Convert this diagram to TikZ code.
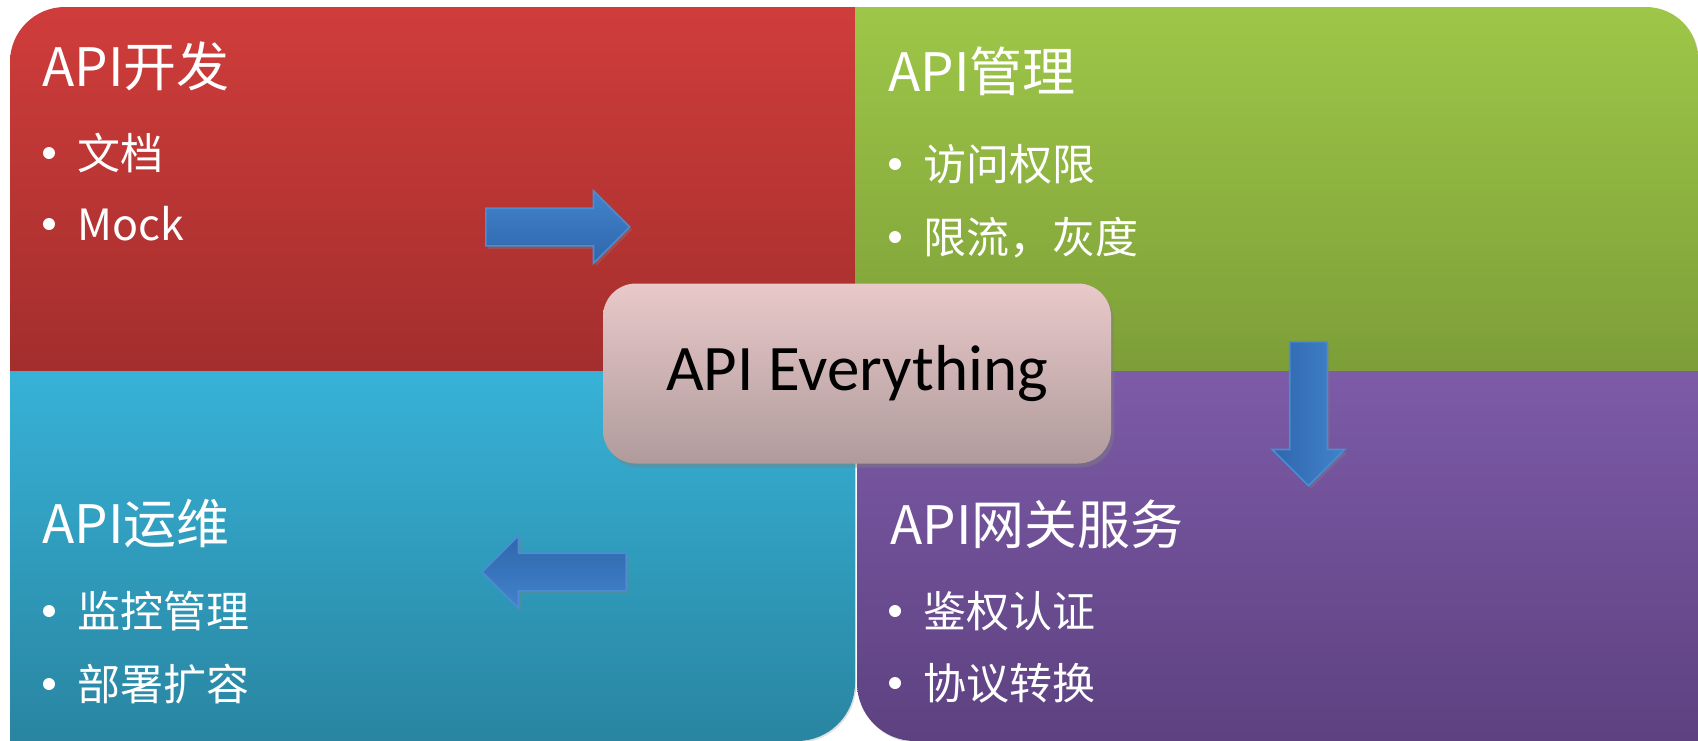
\documentclass[tikz,border=0pt]{standalone}
\usepackage{fontspec}
\setmainfont{Noto Sans CJK SC}
\newfontfamily\hubfont{Carlito}
\usepackage{xcolor}
\usepackage{tikz}
\usetikzlibrary{shapes.arrows,shadows}

\definecolor{devtop}{HTML}{CF3D3B}
\definecolor{devbot}{HTML}{A32E2D}
\definecolor{mgmttop}{HTML}{9EC748}
\definecolor{mgmtbot}{HTML}{7D9E38}
\definecolor{opstop}{HTML}{37B2D7}
\definecolor{opsbot}{HTML}{2985A1}
\definecolor{gwtop}{HTML}{7D5BA8}
\definecolor{gwbot}{HTML}{5D4180}
\definecolor{hubtop}{HTML}{E9C9CA}
\definecolor{hubbot}{HTML}{B09B9B}
\definecolor{arrowlight}{HTML}{4283CB}
\definecolor{arrowdark}{HTML}{2F66AC}
\definecolor{arrowline}{HTML}{4C8CD2}

\tikzset{
  quad/.style={drop shadow={opacity=0.25,shadow xshift=0.6pt,shadow yshift=-0.8pt}},
  title/.style={anchor=west, inner sep=0pt, text=white, font=\fontsize{26.5}{30}\selectfont, text height=22pt, text depth=1.9pt},
  item/.style={anchor=west, inner sep=0pt, text=white, font=\fontsize{21.5}{25}\selectfont, text height=17.8pt, text depth=1.5pt},
  dot/.style={circle, fill=white, inner sep=0pt, minimum size=6pt},
  blockarrow/.style={single arrow, anchor=tail, draw=arrowline, line width=0.8pt, inner xsep=0pt, inner ysep=9pt, minimum height=72pt, single arrow head extend=8.75pt, drop shadow={opacity=0.35,shadow xshift=1.2pt,shadow yshift=-1.5pt}},
  hub/.style={rounded corners=16.5pt, minimum width=254pt, minimum height=90pt, top color=hubtop, bottom color=hubbot, font=\hubfont\fontsize{32.5}{36}\selectfont, drop shadow={opacity=0.45,shadow xshift=1.5pt,shadow yshift=-2pt}}
}

\begin{document}
\begin{tikzpicture}[x=0.5pt,y=-0.5pt]
  \useasboundingbox (0,0) rectangle (1698,740);
  \path[quad, top color=devtop, bottom color=devbot] (855,371) -- (10,371) -- (10,62) arc[start angle=180,end angle=270,radius=55] -- (855,7) -- cycle;
  \path[quad, top color=mgmttop, bottom color=mgmtbot] (855,7) -- (1646,7) arc[start angle=270,end angle=360,radius=52] -- (1698,371) -- (855,371) -- cycle;
  \path[quad, top color=opstop, bottom color=opsbot] (10,371) -- (855,371) -- (855,683) arc[start angle=0,end angle=90,radius=58] -- (10,741) -- cycle;
  \path[quad, top color=gwtop, bottom color=gwbot] (857,371) -- (1698,371) -- (1698,741) -- (915,741) arc[start angle=90,end angle=180,radius=58] -- cycle;

  \node[title] (devT) at (42,66) {API开发};
  \node[dot] (devB1) at (49,153) {};
  \node[item] (dev1) at (77,153) {文档};
  \node[dot] (devB2) at (49,224) {};
  \node[item] (dev2) at (77,224) {Mock};

  \node[title] (mgmtT) at (888,71) {API管理};
  \node[dot] (mgmtB1) at (895,164) {};
  \node[item] (mgmt1) at (923,164) {访问权限};
  \node[dot] (mgmtB2) at (895,237) {};
  \node[item] (mgmt2) at (923,237) {限流，灰度};

  \node[title] (opsT) at (42,523) {API运维};
  \node[dot] (opsB1) at (49,611) {};
  \node[item] (ops1) at (77,611) {监控管理};
  \node[dot] (opsB2) at (49,684) {};
  \node[item] (ops2) at (77,684) {部署扩容};

  \node[title] (gwT) at (890,524) {API网关服务};
  \node[dot] (gwB1) at (895,611) {};
  \node[item] (gw1) at (923,611) {鉴权认证};
  \node[dot] (gwB2) at (895,683) {};
  \node[item] (gw2) at (923,683) {协议转换};

  \node[blockarrow, top color=arrowlight, bottom color=arrowdark] (toMgmt) at (485,227) {};
  \node[blockarrow, rotate=-90, left color=arrowdark, right color=arrowlight] (toGw) at (1308.5,341) {};
  \node[blockarrow, rotate=180, top color=arrowdark, bottom color=arrowlight] (toOps) at (627,572) {};

  \node[hub] (hub) at (857,373.5) {API Everything};
\end{tikzpicture}
\end{document}
